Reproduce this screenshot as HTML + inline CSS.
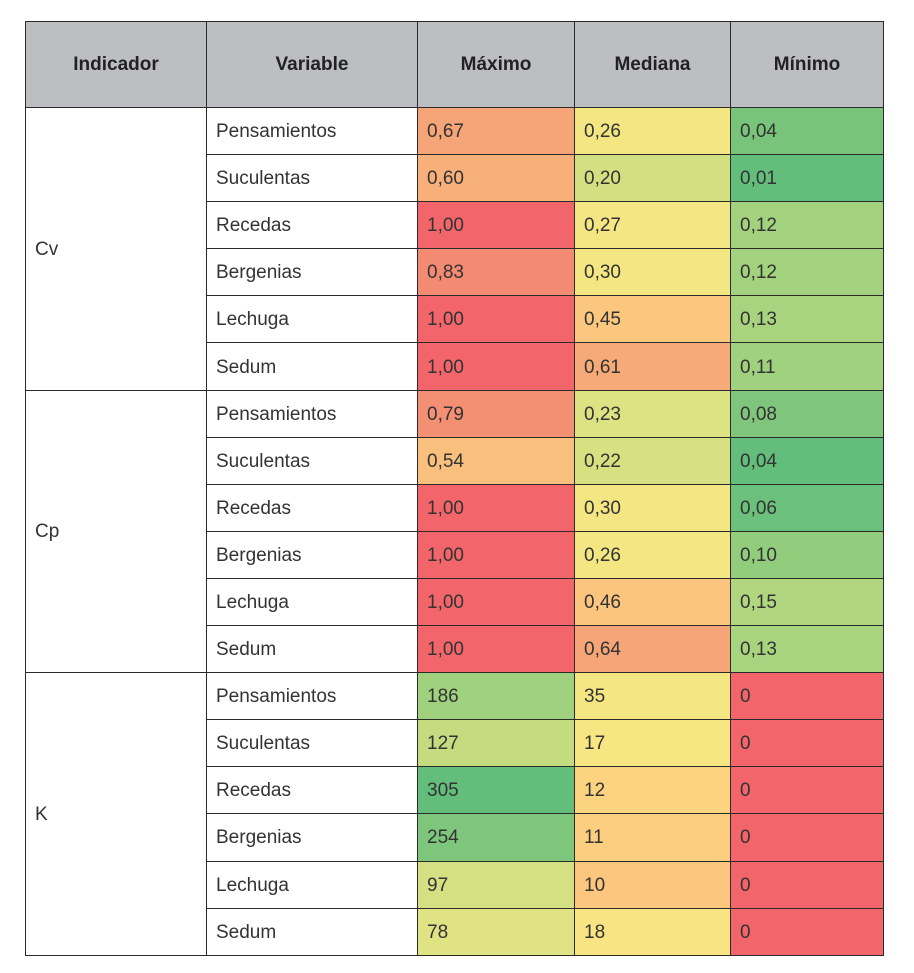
<!DOCTYPE html>
<html><head><meta charset="utf-8">
<style>
body{margin:0;background:#fff;width:914px;height:973px;position:relative;font-family:"Liberation Sans",sans-serif;}
table{position:absolute;left:25px;top:21px;border-collapse:collapse;table-layout:fixed;width:858px;}
td,th{border:1px solid #2a2a2a;padding:2px 0 0 9px;font-size:19px;color:#333;height:47.1px;box-sizing:border-box;}
th{background:#bdbec2;height:86px;font-weight:bold;color:#222;text-align:center;padding:0;}
.ind{background:#fff;}
</style></head><body>
<table id="t">
<colgroup><col style="width:181px"><col style="width:211px"><col style="width:157px"><col style="width:156px"><col style="width:153px"></colgroup>
<thead><tr>
<th>Indicador</th>
<th>Variable</th>
<th>Máximo</th>
<th>Mediana</th>
<th>Mínimo</th>
</tr></thead><tbody id="tb"></tbody></table>
<script>
const indicators=["Cv","Cp","K"];
const variables=["Pensamientos","Suculentas","Recedas","Bergenias","Lechuga","Sedum"];
const maxVals=["0,67","0,60","1,00","0,83","1,00","1,00","0,79","0,54","1,00","1,00","1,00","1,00","186","127","305","254","97","78"];
const medVals=["0,26","0,20","0,27","0,30","0,45","0,61","0,23","0,22","0,30","0,26","0,46","0,64","35","17","12","11","10","18"];
const minVals=["0,04","0,01","0,12","0,12","0,13","0,11","0,08","0,04","0,06","0,10","0,15","0,13","0","0","0","0","0","0"];
const maxCols=["#f5a577","#f7b07a","#f2666b","#f38a72","#f2666b","#f2666b","#f38f73","#f9bf7c","#f2666b","#f2666b","#f2666b","#f2666b","#a0d17e","#c4db80","#63be7b","#7ec67c","#d4e081","#dfe383"];
const medCols=["#f4e783","#d2e081","#f4e783","#f4e783","#fbc67d","#f6aa78","#dde283","#d9e082","#f4e783","#f4e783","#fbc57d","#f5a577","#f4e783","#f8e682","#fcd37f","#fcce7f","#fcc67e","#f8e482"];
const minCols=["#78c47a","#63be7b","#a3d27e","#a3d27e","#a8d47f","#a0d17e","#7fc67c","#63be7b","#6bc17b","#92cc7d","#b0d67f","#a8d47f","#f2666b","#f2666b","#f2666b","#f2666b","#f2666b","#f2666b"];
const tb=document.getElementById('tb');
let k=0;
indicators.forEach((ind,i)=>{
 variables.forEach((v,j)=>{
  const tr=document.createElement('tr');
  
  
  if(j===0){
   const c=document.createElement('td');
   c.rowSpan=variables.length;c.className='ind';c.textContent=ind;
   
   
   tr.appendChild(c);
  }
  const cv=document.createElement('td');cv.textContent=v;
  
  
  tr.appendChild(cv);
  [[maxVals,maxCols,'max-cell'],[medVals,medCols,'median-cell'],[minVals,minCols,'min-cell']].forEach(([vals,cols,nm])=>{
   const c=document.createElement('td');c.textContent=vals[k];c.style.background=cols[k];
   
   
   tr.appendChild(c);
  });
  tb.appendChild(tr);k++;
 });
});
</script>
</body></html>
